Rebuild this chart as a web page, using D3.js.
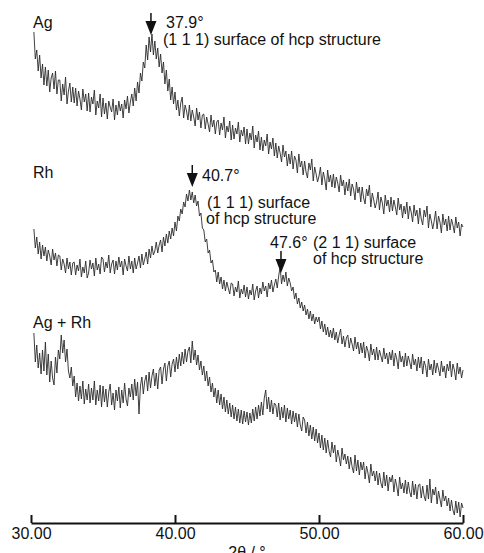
<!DOCTYPE html>
<html>
<head>
<meta charset="utf-8">
<script src="https://cdn.jsdelivr.net/npm/d3@7"></script>
<style>
  body { margin: 0; background: #fff; }
  svg text { font-family: "Liberation Sans", Arial, sans-serif; fill: #111; }
</style>
</head>
<body>
<script>
const w = 484;
const h = 553;

// 2theta grid, 30.2 .. 60.0 in steps of 0.1 deg
const twoTheta = d3.range(302, 601).map(d => d / 10);

// intensities (a.u., traces already stacked) (1 deg per row)
const ag = [
  568, 541, 550, 529, 545, 522, 536, 515,
  533, 514, 530, 508, 522, 527, 511, 529, 506, 520,
  520, 499, 516, 505, 523, 496, 509, 517, 498, 513,
  497, 512, 494, 509, 501, 490, 511, 498, 506, 489,
  507, 488, 503, 496, 510, 485, 499, 492, 506, 483,
  502, 486, 497, 481, 499, 493, 488, 501, 480, 495,
  485, 499, 489, 496, 482, 500, 491, 504, 487, 498,
  506, 494, 512, 499, 518, 507, 527, 519, 538, 532,
  555, 540, 563, 548, 566, 545, 559, 541, 552, 533,
  546, 527, 538, 516, 530, 509, 521, 500, 513, 496,
  508, 490, 500, 484, 497, 503, 482, 495, 489, 480,
  495, 479, 490, 483, 474, 492, 480, 488, 472, 485,
  486, 471, 483, 476, 468, 485, 473, 480, 466, 478,
  480, 465, 477, 470, 483, 462, 474, 468, 479, 460,
  475, 461, 472, 466, 478, 458, 470, 464, 473, 456,
  471, 456, 467, 460, 474, 452, 465, 458, 469, 450,
  463, 449, 460, 454, 466, 446, 458, 451, 462, 444,
  457, 442, 454, 447, 438, 455, 443, 449, 434, 446,
  436, 449, 431, 444, 440, 427, 446, 433, 439, 425,
  439, 428, 422, 437, 430, 441, 419, 433, 426, 418,
  424, 433, 415, 428, 421, 410, 430, 418, 425, 413,
  426, 412, 423, 417, 408, 425, 414, 420, 405, 418,
  409, 421, 404, 416, 411, 400, 418, 407, 413, 398,
  413, 402, 396, 411, 404, 415, 393, 407, 400, 392,
  398, 408, 390, 403, 397, 386, 405, 394, 400, 388,
  403, 389, 400, 393, 385, 402, 390, 396, 382, 394,
  386, 398, 381, 394, 388, 378, 395, 384, 390, 376,
  392, 381, 375, 390, 383, 394, 372, 386, 379, 371,
  379, 389, 371, 384, 378, 367, 386, 375, 381, 369,
  384, 370, 381, 375, 367, 383, 372, 378, 364, 376,
  373
];

const rh = [
  371, 352, 363, 346, 358, 341, 355, 344,
  353, 339, 350, 344, 335, 351, 340, 347, 334, 345,
  344, 330, 341, 336, 327, 342, 331, 338, 325, 337,
  338, 325, 335, 329, 341, 323, 333, 327, 339, 322,
  327, 340, 331, 337, 324, 342, 330, 336, 326, 343,
  341, 328, 338, 332, 345, 327, 336, 340, 326, 339,
  330, 343, 333, 339, 325, 341, 334, 329, 344, 331,
  339, 327, 342, 331, 337, 344, 332, 346, 335, 341,
  348, 336, 351, 342, 354, 345, 349, 358, 347, 355,
  360, 348, 363, 354, 366, 357, 369, 361, 372, 364,
  378, 369, 384, 379, 391, 386, 398, 393, 406, 399,
  410, 400, 408, 397, 405, 394, 399, 384, 387, 372,
  370, 358, 361, 347, 350, 337, 340, 328, 330, 318,
  328, 316, 323, 311, 320, 309, 318, 312, 306, 317,
  316, 304, 313, 308, 319, 302, 311, 306, 315, 303,
  313, 301, 310, 305, 316, 300, 309, 314, 302, 312,
  306, 318, 309, 314, 303, 317, 311, 320, 308, 315,
  321, 312, 324, 333, 316, 325, 318, 328, 314, 322,
  317, 309, 313, 301, 307, 296, 302, 292, 298, 289,
  295, 285, 291, 281, 289, 279, 286, 276, 283, 278,
  283, 271, 279, 268, 276, 265, 273, 263, 270, 262,
  272, 260, 268, 257, 265, 271, 256, 264, 253, 262,
  265, 252, 262, 256, 249, 263, 251, 258, 246, 257,
  247, 258, 242, 254, 249, 239, 256, 245, 251, 240,
  253, 240, 250, 244, 238, 252, 241, 247, 236, 248,
  240, 250, 234, 247, 241, 231, 249, 238, 244, 233,
  247, 234, 244, 238, 231, 246, 235, 241, 229, 243,
  232, 243, 226, 239, 234, 223, 241, 230, 236, 225,
  240, 227, 237, 231, 224, 239, 228, 234, 222, 236,
  229, 239, 223, 236, 230, 220, 237, 226, 233, 222,
  230
];

const agRh = [
  267, 238, 255, 232, 247, 226, 250, 229,
  258, 225, 246, 218, 239, 222, 215, 243, 227, 250,
  241, 265, 247, 260, 238, 251, 229, 222, 233, 214,
  224, 203, 217, 199, 214, 201, 219, 196, 211, 200,
  216, 197, 212, 200, 219, 195, 210, 199, 215, 193,
  214, 198, 211, 193, 208, 216, 195, 207, 190, 210,
  199, 213, 192, 210, 197, 217, 201, 194, 212, 203,
  216, 200, 221, 204, 218, 186, 214, 223, 206, 219,
  225, 209, 228, 212, 224, 231, 214, 227, 211, 230,
  233, 216, 231, 237, 219, 234, 239, 223, 236, 241,
  228, 243, 231, 246, 234, 248, 236, 251, 238, 249,
  253, 237, 259, 240, 250, 235, 245, 230, 239, 225,
  234, 219, 229, 214, 223, 208, 217, 203, 212, 197,
  210, 195, 206, 191, 203, 188, 200, 186, 197, 183,
  195, 181, 193, 179, 191, 177, 190, 176, 189, 178,
  188, 175, 187, 177, 191, 179, 193, 181, 195, 184,
  198, 185, 202, 210, 191, 203, 188, 200, 186, 197,
  195, 183, 197, 180, 193, 182, 195, 178, 192, 181,
  190, 176, 189, 178, 187, 173, 186, 175, 169, 183,
  180, 167, 178, 164, 175, 161, 173, 159, 171, 157,
  167, 152, 165, 150, 162, 147, 160, 149, 143, 158,
  147, 155, 138, 150, 143, 134, 152, 140, 146, 136,
  144, 131, 143, 133, 127, 145, 129, 140, 125, 138,
  130, 138, 121, 134, 127, 117, 136, 124, 129, 119,
  129, 115, 127, 117, 112, 128, 114, 125, 109, 123,
  118, 125, 108, 121, 114, 104, 123, 111, 117, 107,
  120, 106, 118, 108, 103, 119, 105, 116, 101, 115,
  116, 102, 114, 104, 99, 115, 101, 121, 97, 111,
  105, 113, 96, 109, 101, 93, 110, 99, 104, 94,
  102, 89, 100, 90, 85, 99, 87, 98, 83, 97,
  92
];

const sampleNames = ["Ag", "Rh", "Ag + Rh"];
const xTicks = [30, 40, 50, 60];

// peak markers: where the arrow points (2theta, intensity) and its label
const peakX = [38.33, 41.2, 47.36];
const peakY = [565, 413, 327];
const peakLabels = ["37.9°", "40.7°", "47.6°"];

let svg = d3.select("body")
    .append("svg")
    .attr("width", w)
    .attr("height", h);

let x = d3.scaleLinear()
    .domain([30, 60])
    .range([31, 463]);

let y = d3.scaleLinear()
    .domain([0, 600])
    .range([600, 0]);

let line = d3.line()
    .x((d, i) => x(twoTheta[i]))
    .y(d => y(d));

[ag, rh, agRh].forEach(s => {
    svg.append("path")
        .datum(s)
        .attr("d", line)
        .attr("fill", "none")
        .attr("stroke", "#2a2a2a")
        .attr("stroke-width", 0.9)
        .attr("stroke-linejoin", "round");
});

// sample names
const nameY = [28, 178, 328];
svg.selectAll("text.name")
    .data(sampleNames)
    .enter()
    .append("text")
    .attr("class", "name")
    .attr("x", 33)
    .attr("y", (d, i) => nameY[i])
    .style("font-size", "16px")
    .text(d => d);

// arrows
peakX.forEach((px, i) => {
    const tx = x(px), ty = y(peakY[i]);
    svg.append("line")
        .attr("x1", tx).attr("x2", tx)
        .attr("y1", ty - 22).attr("y2", ty - 13)
        .attr("stroke", "#111")
        .attr("stroke-width", 1.5);
    svg.append("path")
        .attr("d", `M${tx - 5.5},${ty - 14} L${tx + 5.5},${ty - 14} L${tx},${ty} Z`)
        .attr("fill", "#111");
});

// peak annotations
const notes = [
    { x: 166, y: 28, t: peakLabels[0] },
    { x: 163, y: 45, t: "(1 1 1) surface of hcp structure" },
    { x: 202, y: 181, t: peakLabels[1] },
    { x: 207, y: 208, t: "(1 1 1) surface" },
    { x: 206, y: 224, t: "of hcp structure" },
    { x: 270, y: 248, t: peakLabels[2] },
    { x: 313, y: 248, t: "(2 1 1) surface" },
    { x: 313, y: 264, t: "of hcp structure" }
];
svg.selectAll("text.note")
    .data(notes)
    .enter()
    .append("text")
    .attr("class", "note")
    .attr("x", d => d.x)
    .attr("y", d => d.y)
    .style("font-size", "16px")
    .text(d => d.t);

// x axis, ticks pointing up
let axis = svg.append("g")
    .attr("transform", "translate(0, 523)")
    .call(d3.axisBottom(x)
        .tickValues(xTicks)
        .tickSizeInner(-8)
        .tickSizeOuter(0)
        .tickPadding(5)
        .tickFormat(d3.format(".2f")));

axis.select(".domain")
    .attr("stroke", "#111")
    .attr("stroke-width", 2);
axis.selectAll(".tick line")
    .attr("stroke", "#111")
    .attr("stroke-width", 2);
axis.selectAll(".tick text")
    .style("font-family", "'Liberation Sans', Arial, sans-serif")
    .style("font-size", "16px")
    .attr("fill", "#111");

// axis title, partly below the bottom edge as in the original figure
svg.append("text")
    .attr("x", 247)
    .attr("y", 558)
    .attr("text-anchor", "middle")
    .style("font-size", "16px")
    .text("2θ / °");
</script>
</body>
</html>
